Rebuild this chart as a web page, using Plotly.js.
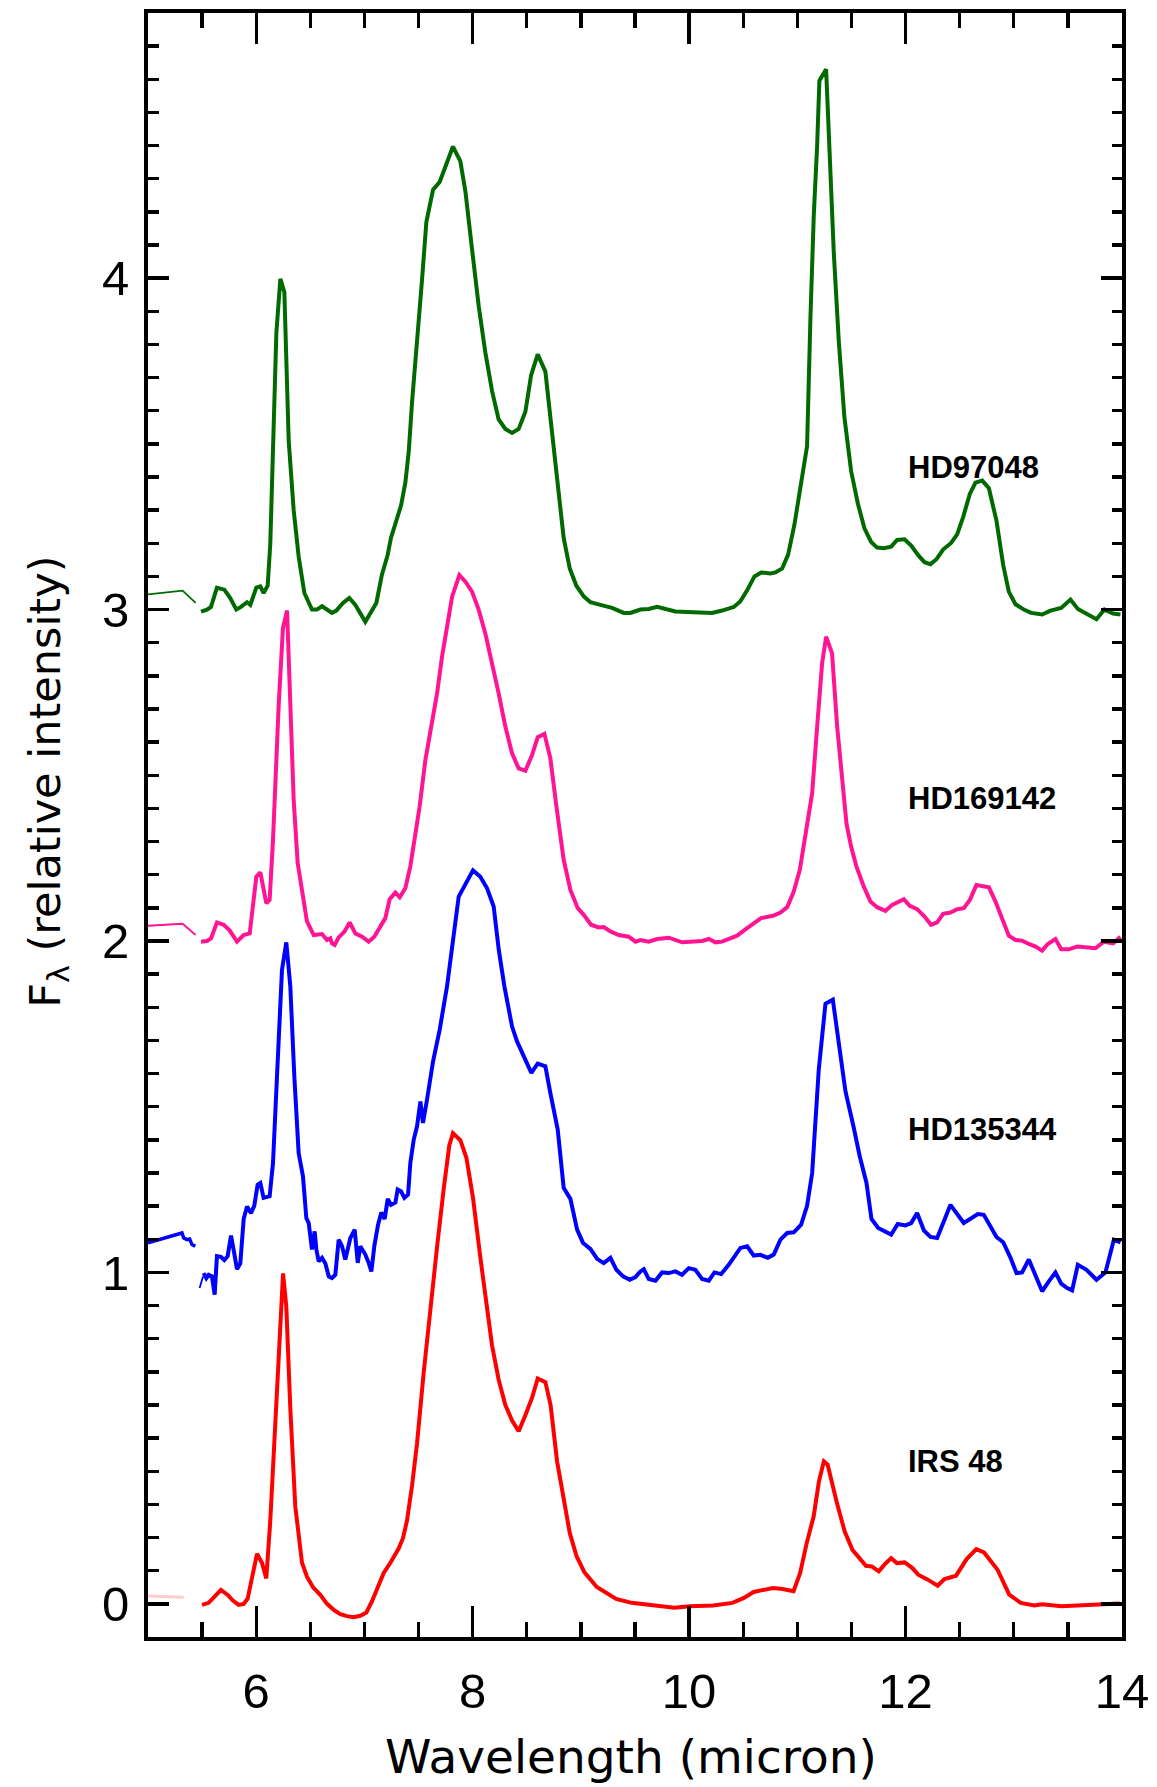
<!DOCTYPE html>
<html>
<head>
<meta charset="utf-8">
<script src="https://cdn.plot.ly/plotly-3.0.1.min.js"></script>
<style>
  html, body { margin: 0; padding: 0; background: #ffffff; }
  #chart { width: 1157px; height: 1787px; }
</style>
</head>
<body>
<div id="chart"></div>
<script>
// PAH emission spectra, each star shifted upward by one unit (F_lambda, relative)

// HD97048 (offset +3)
const hd97048Wave = [5.49,5.545,5.582,5.637,5.705,5.76,5.816,5.859,5.915,5.945,6.001,6.038,6.068,6.106,6.13,6.186,6.223,6.26,6.3,6.346,6.392,6.445,6.515,6.56,6.608,6.654,6.70,6.74,6.802,6.86,6.916,7.008,7.054,7.11,7.162,7.214,7.245,7.295,7.338,7.378,7.409,7.44,7.486,7.532,7.572,7.634,7.695,7.763,7.818,7.886,7.933,7.994,8.056,8.117,8.179,8.24,8.302,8.364,8.425,8.487,8.54,8.601,8.672,8.718,8.78,8.841,8.897,8.958,9.026,9.088,9.18,9.288,9.396,9.457,9.55,9.627,9.704,9.781,9.873,9.981,10.105,10.212,10.305,10.413,10.474,10.536,10.604,10.665,10.751,10.798,10.86,10.915,10.973,11.029,11.09,11.121,11.152,11.183,11.204,11.266,11.306,11.337,11.383,11.435,11.497,11.559,11.62,11.682,11.737,11.799,11.867,11.922,11.99,12.052,12.122,12.175,12.23,12.286,12.347,12.421,12.477,12.532,12.594,12.646,12.708,12.77,12.84,12.902,12.954,13.016,13.093,13.16,13.262,13.339,13.438,13.524,13.592,13.678,13.764,13.838,13.918,13.986];
const hd97048Flux = [2.994,3.0,3.008,3.066,3.06,3.035,3.0,3.008,3.022,3.014,3.066,3.07,3.05,3.072,3.199,3.834,3.998,3.958,3.51,3.30,3.16,3.05,3.0,3.0,3.01,3.0,2.99,2.997,3.02,3.035,3.014,2.963,2.99,3.02,3.106,3.164,3.216,3.268,3.314,3.383,3.476,3.626,3.80,3.995,4.169,4.267,4.29,4.348,4.397,4.353,4.261,4.088,3.915,3.776,3.66,3.574,3.545,3.533,3.545,3.597,3.707,3.77,3.718,3.58,3.383,3.216,3.124,3.072,3.04,3.022,3.014,3.005,2.99,2.99,3.0,3.002,3.008,3.002,2.994,2.993,2.993,2.99,2.997,3.008,3.025,3.058,3.10,3.112,3.109,3.112,3.124,3.166,3.256,3.372,3.493,3.88,4.19,4.40,4.596,4.63,4.307,4.076,3.81,3.58,3.418,3.32,3.245,3.204,3.187,3.185,3.19,3.21,3.212,3.193,3.162,3.143,3.137,3.152,3.181,3.201,3.227,3.279,3.349,3.383,3.389,3.366,3.268,3.135,3.054,3.016,3.0,2.99,2.985,2.997,3.005,3.03,3.002,2.985,2.971,3.0,2.988,2.985];
const hd97048EdgeWave = [5.0, 5.32, 5.44];
const hd97048EdgeFlux = [3.046, 3.057, 3.02];

// HD169142 (offset +2)
const hd169142Wave = [5.49,5.545,5.582,5.637,5.699,5.754,5.822,5.884,5.94,5.961,6.001,6.038,6.068,6.093,6.124,6.155,6.207,6.247,6.285,6.315,6.346,6.383,6.423,6.469,6.531,6.608,6.654,6.685,6.70,6.725,6.762,6.814,6.864,6.916,6.978,7.039,7.091,7.147,7.193,7.233,7.286,7.326,7.378,7.424,7.47,7.51,7.563,7.609,7.671,7.717,7.763,7.81,7.877,7.933,7.994,8.056,8.117,8.179,8.24,8.302,8.364,8.425,8.487,8.549,8.601,8.663,8.718,8.774,8.841,8.903,8.971,9.026,9.094,9.165,9.211,9.273,9.35,9.442,9.504,9.55,9.627,9.704,9.812,9.935,10.043,10.12,10.182,10.243,10.305,10.376,10.443,10.536,10.665,10.782,10.844,10.906,10.967,11.023,11.075,11.137,11.183,11.229,11.266,11.321,11.368,11.414,11.454,11.497,11.546,11.614,11.676,11.737,11.814,11.876,11.984,12.039,12.107,12.169,12.236,12.292,12.347,12.415,12.477,12.538,12.594,12.655,12.708,12.77,12.831,12.893,12.954,13.016,13.077,13.139,13.201,13.262,13.314,13.385,13.438,13.508,13.586,13.663,13.755,13.832,13.918,13.986];
const hd169142Flux = [1.998,2.0,2.008,2.056,2.049,2.032,1.998,2.018,2.023,2.084,2.194,2.207,2.154,2.114,2.124,2.305,2.707,2.944,2.997,2.737,2.426,2.235,2.144,2.059,2.018,2.021,2.003,2.008,1.993,1.988,2.011,2.028,2.056,2.023,2.013,1.998,2.013,2.044,2.069,2.126,2.146,2.132,2.159,2.225,2.315,2.406,2.546,2.627,2.747,2.858,2.949,3.039,3.104,3.084,3.054,2.999,2.928,2.843,2.747,2.647,2.566,2.521,2.514,2.561,2.615,2.625,2.551,2.406,2.245,2.154,2.099,2.079,2.049,2.041,2.042,2.029,2.018,2.013,1.998,2.003,1.998,2.006,2.01,1.996,2.0,2.0,2.006,1.996,1.998,2.008,2.016,2.039,2.069,2.077,2.086,2.102,2.149,2.215,2.315,2.446,2.647,2.838,2.918,2.868,2.647,2.486,2.355,2.285,2.225,2.164,2.119,2.102,2.091,2.109,2.126,2.106,2.096,2.076,2.049,2.056,2.082,2.086,2.096,2.099,2.124,2.169,2.167,2.162,2.119,2.064,2.016,2.003,2.001,1.991,1.983,1.971,1.991,2.006,1.975,1.975,1.983,1.981,1.978,1.998,1.993,2.013];
const hd169142EdgeWave = [5.0, 5.32, 5.44];
const hd169142EdgeFlux = [2.046, 2.052, 2.018];

// HD135344 (offset +1)
const hd135344Wave = [5.514,5.539,5.56,5.591,5.616,5.637,5.674,5.705,5.736,5.767,5.791,5.822,5.853,5.884,5.915,5.952,5.982,6.013,6.038,6.068,6.124,6.155,6.192,6.238,6.278,6.315,6.352,6.392,6.432,6.463,6.485,6.515,6.54,6.556,6.577,6.608,6.639,6.67,6.70,6.731,6.762,6.793,6.823,6.87,6.91,6.938,6.962,7.008,7.039,7.064,7.092,7.126,7.156,7.187,7.215,7.245,7.286,7.307,7.338,7.369,7.403,7.424,7.455,7.486,7.517,7.541,7.578,7.634,7.695,7.763,7.871,7.933,8.003,8.071,8.133,8.194,8.241,8.293,8.364,8.41,8.472,8.542,8.601,8.672,8.718,8.786,8.841,8.903,8.965,9.02,9.088,9.15,9.211,9.273,9.328,9.39,9.451,9.504,9.55,9.581,9.627,9.689,9.75,9.812,9.873,9.935,9.997,10.058,10.12,10.182,10.234,10.296,10.366,10.428,10.474,10.536,10.597,10.659,10.727,10.782,10.844,10.906,10.967,11.035,11.09,11.137,11.198,11.26,11.328,11.383,11.445,11.522,11.577,11.639,11.685,11.747,11.808,11.867,11.928,11.999,12.052,12.107,12.169,12.23,12.292,12.415,12.538,12.668,12.723,12.84,12.902,12.97,13.025,13.077,13.139,13.201,13.262,13.324,13.385,13.438,13.493,13.539,13.592,13.672,13.764,13.847,13.925,13.986];
const hd135344Flux = [0.998,0.983,0.993,0.988,0.933,1.049,1.047,1.037,1.049,1.111,1.069,1.01,1.027,1.161,1.199,1.179,1.201,1.265,1.27,1.225,1.23,1.33,1.592,1.913,1.996,1.863,1.592,1.36,1.29,1.164,1.149,1.069,1.124,1.069,1.033,1.044,1.027,0.988,0.983,0.993,1.099,1.079,1.039,1.104,1.129,1.029,1.079,1.054,1.029,1.003,1.081,1.144,1.181,1.161,1.222,1.204,1.211,1.25,1.245,1.225,1.235,1.33,1.40,1.441,1.516,1.451,1.521,1.637,1.732,1.863,2.134,2.174,2.213,2.194,2.159,2.104,1.974,1.863,1.742,1.697,1.652,1.602,1.63,1.622,1.541,1.431,1.255,1.222,1.129,1.089,1.071,1.041,1.028,1.044,1.008,0.988,0.978,0.986,1.003,1.01,0.98,0.975,1.0,0.998,1.003,0.993,1.013,1.008,0.98,0.975,1.0,0.995,1.023,1.054,1.074,1.079,1.051,1.053,1.044,1.054,1.099,1.119,1.121,1.144,1.201,1.3,1.612,1.811,1.823,1.692,1.546,1.436,1.35,1.27,1.161,1.134,1.124,1.114,1.146,1.142,1.149,1.179,1.127,1.107,1.104,1.204,1.149,1.176,1.174,1.107,1.091,1.044,0.998,1.0,1.039,0.988,0.943,0.973,1.0,0.966,0.953,0.946,1.023,1.008,0.978,1.0,1.099,1.091];
const hd135344EdgeWave = [5.0, 5.314, 5.33, 5.36, 5.385, 5.406, 5.437];
const hd135344EdgeFlux = [1.089, 1.119, 1.104, 1.099, 1.101, 1.084, 1.079];
const hd135344StubWave = [5.477, 5.508];
const hd135344StubFlux = [0.953, 0.988];

// IRS 48 (no offset)
const irs48Wave = [5.499,5.56,5.613,5.674,5.736,5.785,5.838,5.884,5.921,5.961,6.007,6.053,6.093,6.13,6.177,6.217,6.248,6.278,6.315,6.361,6.423,6.469,6.525,6.592,6.654,6.716,6.777,6.839,6.9,6.962,7.018,7.07,7.125,7.178,7.24,7.316,7.356,7.393,7.44,7.486,7.547,7.609,7.671,7.732,7.784,7.818,7.886,7.942,8.003,8.071,8.133,8.179,8.241,8.302,8.364,8.425,8.487,8.549,8.601,8.672,8.72,8.78,8.843,8.897,8.961,9.033,9.147,9.326,9.469,9.648,9.863,10.006,10.221,10.4,10.507,10.596,10.775,10.865,10.965,11.026,11.087,11.151,11.2,11.245,11.28,11.366,11.437,11.509,11.58,11.634,11.688,11.752,11.813,11.867,11.92,11.992,12.063,12.117,12.206,12.296,12.36,12.467,12.564,12.654,12.725,12.85,12.958,13.065,13.19,13.262,13.441,13.655,13.798,13.977];
const irs48Flux = [-0.003,0.003,0.021,0.042,0.027,0.01,-0.003,0.0,0.016,0.082,0.151,0.124,0.077,0.251,0.569,0.844,0.997,0.897,0.590,0.294,0.124,0.082,0.05,0.027,0.0,-0.018,-0.031,-0.037,-0.04,-0.036,-0.026,0.008,0.05,0.093,0.124,0.167,0.198,0.251,0.357,0.484,0.696,0.897,1.077,1.251,1.383,1.42,1.399,1.346,1.225,1.045,0.886,0.78,0.675,0.6,0.553,0.521,0.569,0.622,0.68,0.669,0.60,0.43,0.314,0.214,0.143,0.095,0.051,0.015,0.003,-0.005,-0.012,-0.007,-0.005,0.003,0.018,0.036,0.048,0.045,0.038,0.093,0.184,0.264,0.37,0.43,0.42,0.304,0.219,0.163,0.133,0.115,0.113,0.098,0.121,0.138,0.123,0.125,0.108,0.088,0.073,0.055,0.075,0.085,0.135,0.165,0.155,0.103,0.028,0.003,-0.005,-0.001,-0.007,-0.005,-0.002,0.001];
const irs48EdgeWave = [5.0, 5.33];
const irs48EdgeFlux = [0.024, 0.02];

const starNames = ['HD97048', 'HD169142', 'HD135344', 'IRS 48'];
const starColors = ['#006a00', '#ff1493', '#0000ff', '#ff0000'];
const labelWave = 12.0;
const labelFlux = [3.43, 2.43, 1.43, 0.43];

const xTickLabels = ['6', '8', '10', '12', '14'];
const yTickLabels = ['0', '1', '2', '3', '4'];

const mainLine = 4;

function curve(x, y, color, width, opacity) {
  return {
    type: 'scatter', mode: 'lines', x: x, y: y,
    line: { color: color, width: width, shape: 'linear' },
    opacity: opacity === undefined ? 1 : opacity,
    hoverinfo: 'skip', showlegend: false
  };
}

const traces = [
  curve(hd97048EdgeWave, hd97048EdgeFlux, starColors[0], 1.8),
  curve(hd97048Wave, hd97048Flux, starColors[0], mainLine),
  curve(hd169142EdgeWave, hd169142EdgeFlux, starColors[1], 1.8),
  curve(hd169142Wave, hd169142Flux, starColors[1], mainLine),
  curve(hd135344EdgeWave, hd135344EdgeFlux, starColors[2], 3.5),
  curve(hd135344StubWave, hd135344StubFlux, starColors[2], 1.8),
  curve(hd135344Wave, hd135344Flux, starColors[2], mainLine),
  curve(irs48EdgeWave, irs48EdgeFlux, starColors[3], 3, 0.2),
  curve(irs48Wave, irs48Flux, starColors[3], mainLine),
  // carrier for the mirrored top/right axes
  { type: 'scatter', mode: 'lines', x: [], y: [], xaxis: 'x2', yaxis: 'y2',
    hoverinfo: 'skip', showlegend: false }
];

const tickFont = { family: 'Liberation Sans, Arial, sans-serif', size: 49, color: '#000' };
const xRange = [5, 14];
const yRange = [-0.1, 4.8];

const xCommon = {
  range: xRange, showgrid: false, zeroline: false,
  showline: true, linecolor: '#000', linewidth: 4,
  ticks: 'inside', ticklen: 31, tickwidth: 3.3, tickcolor: '#000',
  tickmode: 'array', tickvals: xTickLabels.map(Number), ticktext: xTickLabels,
  minor: { dtick: 0.5, tick0: 0, ticks: 'inside', ticklen: 15, tickwidth: 3.3, tickcolor: '#000', showgrid: false }
};
const yCommon = {
  range: yRange, showgrid: false, zeroline: false,
  showline: true, linecolor: '#000', linewidth: 4,
  ticks: 'inside', ticklen: 21, tickwidth: 3.3, tickcolor: '#000',
  tickmode: 'array', tickvals: yTickLabels.map(Number), ticktext: yTickLabels,
  minor: { dtick: 0.1, tick0: 0, ticks: 'inside', ticklen: 10.5, tickwidth: 3.3, tickcolor: '#000', showgrid: false }
};

const annotations = starNames.map((name, i) => ({
  x: labelWave, y: labelFlux[i], xref: 'x', yref: 'y',
  text: '<b>' + name + '</b>', showarrow: false,
  xanchor: 'left', yanchor: 'middle',
  font: { family: 'Liberation Sans, Arial, sans-serif', size: 31, color: '#000' }
}));

annotations.push({
  xref: 'paper', yref: 'paper', x: 0.4964, y: -0.0733,
  text: 'Wavelength (micron)', showarrow: false,
  xanchor: 'center', yanchor: 'middle',
  font: { family: 'DejaVu Sans, sans-serif', size: 47, color: '#000' }
});
annotations.push({
  xref: 'paper', yref: 'paper', x: -0.103, y: 0.5265,
  text: 'F<sub>λ</sub> (relative intensity)', showarrow: false,
  textangle: -90, xanchor: 'center', yanchor: 'middle',
  font: { family: 'DejaVu Sans, sans-serif', size: 43, color: '#000' }
});

const layout = {
  width: 1157, height: 1787,
  margin: { l: 148, r: 35, t: 13, b: 150, pad: 0 },
  paper_bgcolor: '#ffffff', plot_bgcolor: '#ffffff',
  showlegend: false,
  xaxis: Object.assign({}, xCommon, { side: 'bottom', tickfont: tickFont, ticklabelstandoff: 8 }),
  yaxis: Object.assign({}, yCommon, { side: 'left', tickfont: tickFont, ticklabelstandoff: 5 }),
  xaxis2: Object.assign({}, xCommon, { overlaying: 'x', side: 'top', showticklabels: false }),
  yaxis2: Object.assign({}, yCommon, { overlaying: 'y', side: 'right', showticklabels: false }),
  annotations: annotations
};

Plotly.newPlot('chart', traces, layout, { displayModeBar: false, staticPlot: true });
</script>
</body>
</html>
